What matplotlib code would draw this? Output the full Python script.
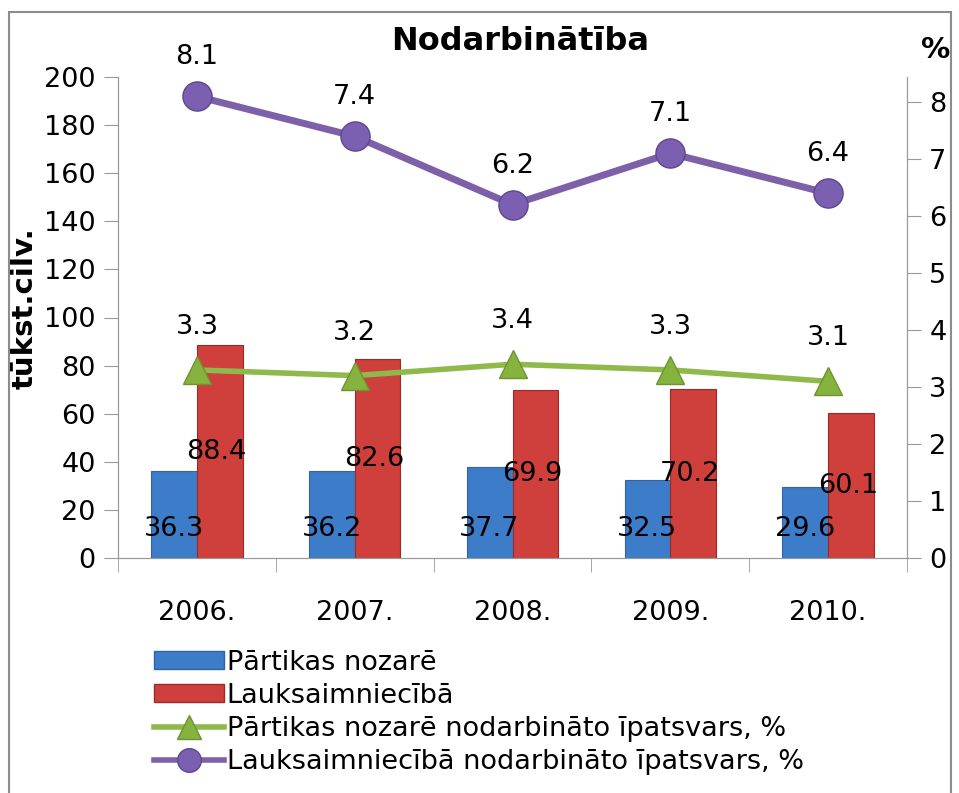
import numpy as np
import matplotlib.pyplot as plt
from matplotlib.patches import Patch, Rectangle
from matplotlib.lines import Line2D

# data
years = ['2006.', '2007.', '2008.', '2009.', '2010.']
food = [36.3, 36.2, 37.7, 32.5, 29.6]          # Pārtikas nozarē, tūkst. cilv.
agri = [88.4, 82.6, 69.9, 70.2, 60.1]          # Lauksaimniecībā, tūkst. cilv.
food_pct = [3.3, 3.2, 3.4, 3.3, 3.1]
agri_pct = [8.1, 7.4, 6.2, 7.1, 6.4]

c_blue = '#3d7cc9'
c_red = '#cf3f3b'
c_green = '#8fb94b'
c_purple = '#7d60a8'
c_axis = '#999999'
fs = 19.5

plt.rcParams['font.family'] = ['DejaVu Sans']

fig = plt.figure(figsize=(9.59, 7.93), dpi=100)
ax = fig.add_axes([118/959, 1-558/793, (907-118)/959, (558-77)/793])

x = np.arange(len(years))
w = 0.29
ax.bar(x - w/2, food, w, color=c_blue, edgecolor='#2f65a8', linewidth=0.8)
ax.bar(x + w/2, agri, w, color=c_red, edgecolor='#9c2a27', linewidth=0.8)

for i in range(len(years)):
    ax.text(x[i] - w/2, 12, f'{food[i]}', ha='center', va='center', fontsize=fs)
    ax.text(x[i] + w/2 - 0.02, agri[i]/2, f'{agri[i]}', ha='center', va='center', fontsize=fs)

ax.set_xlim(-0.5, len(years) - 0.5)
ax.set_ylim(0, 200)
ax.set_yticks(range(0, 201, 20))
ax.set_xticks(x)
ax.set_xticklabels(years)
ax.set_xticks(np.arange(-0.5, len(years), 1), minor=True)
ax.tick_params(axis='x', which='major', length=0, pad=30, labelsize=fs)
ax.tick_params(axis='x', which='minor', length=10, color=c_axis)
ax.tick_params(axis='y', length=10, color=c_axis, labelsize=fs, pad=6)
ax.spines['top'].set_visible(False)
for s in ['left', 'bottom', 'right']:
    ax.spines[s].set_color(c_axis)
ax.set_ylabel('tūkst.cilv.', fontsize=21, fontweight='bold')
ax.yaxis.set_label_coords(-0.1, 0.52)

ax2 = ax.twinx()
ax2.plot(x, food_pct, color=c_green, linewidth=4, marker='^', markersize=20,
         markerfacecolor='#86b23e', markeredgecolor='#6e9432')
ax2.plot(x, agri_pct, color=c_purple, linewidth=5, marker='o', markersize=21,
         markerfacecolor='#7b5fb0', markeredgecolor='#5e4690')
for i in range(len(years)):
    ax2.annotate(f'{food_pct[i]}', (x[i], food_pct[i]), xytext=(0, 31),
                 textcoords='offset points', ha='center', va='center', fontsize=fs)
    ax2.annotate(f'{agri_pct[i]}', (x[i], agri_pct[i]), xytext=(0, 28),
                 textcoords='offset points', ha='center', va='center', fontsize=fs)
ax2.set_ylim(0, 8.44)
ax2.set_yticks(range(0, 9))
ax2.tick_params(axis='y', length=10, color=c_axis, labelsize=fs, pad=6)
ax2.spines['top'].set_visible(False)
for s in ['left', 'bottom', 'right']:
    ax2.spines[s].set_color(c_axis)

fig.text(520/959, 1-42/793, 'Nodarbinātība', ha='center', va='center',
         fontsize=23, fontweight='bold')
fig.text(936/959, 1-50/793, '%', ha='center', va='center',
         fontsize=21, fontweight='bold')

handles = [
    Patch(facecolor=c_blue, edgecolor='#2f65a8'),
    Patch(facecolor=c_red, edgecolor='#9c2a27'),
    Line2D([], [], color=c_green, linewidth=4, marker='^', markersize=17,
           markerfacecolor='#86b23e', markeredgecolor='#6e9432'),
    Line2D([], [], color=c_purple, linewidth=4, marker='o', markersize=17,
           markerfacecolor='#7b5fb0', markeredgecolor='#5e4690'),
]
labels = ['Pārtikas nozarē', 'Lauksaimniecībā',
          'Pārtikas nozarē nodarbināto īpatsvars, %',
          'Lauksaimniecībā nodarbināto īpatsvars, %']
fig.legend(handles, labels, loc='upper left', bbox_to_anchor=(140/959, 1-636/793),
           frameon=False, fontsize=fs, handlelength=2.6, handleheight=0.6,
           handletextpad=0.1, labelspacing=0.26, borderpad=0)

fig.patches.append(Rectangle((9/959, -0.02), 942/959, 1-12/793 + 0.02,
                             transform=fig.transFigure, fill=False,
                             edgecolor='#8c8c8c', linewidth=1.5))

fig.savefig('out.png', dpi=100)
